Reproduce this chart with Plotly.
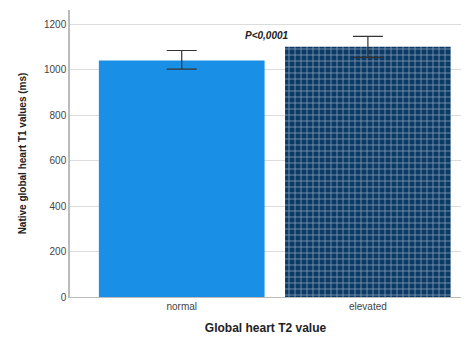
import plotly.graph_objects as go

categories = ["normal", "elevated"]
means = [1040, 1100]
err_plus = [44, 46]
err_minus = [38, 46]
y_ticks = [0, 200, 400, 600, 800, 1000, 1200]

fig = go.Figure()
fig.add_trace(go.Bar(
    x=[0, 1], y=means,
    width=0.89,
    marker=dict(
        color=["#1a8fe6", "#0b3a66"],
        line=dict(width=0),
        pattern=dict(shape=["", "+"], fgcolor="#28659c", size=6, solidity=0.25),
    ),
    error_y=dict(type="data", symmetric=False, array=err_plus, arrayminus=err_minus,
                 color="#333333", thickness=1.2, width=15),
    showlegend=False,
))

fig.add_annotation(x=0.46, y=1150, xref="x", yref="y", text="<b><i>P<0,0001</i></b>",
                   showarrow=False, font=dict(family="Arial, Liberation Sans", size=10, color="#222222"),
                   xanchor="center", yanchor="middle")

fig.update_layout(
    width=467, height=339,
    margin=dict(l=70, r=6, t=10, b=42),
    paper_bgcolor="white", plot_bgcolor="white",
    font=dict(family="Arial, Liberation Sans", color="#333333"),
    bargap=0.11,
)
fig.update_xaxes(
    range=[-0.6, 1.5], tickvals=[0, 1], ticktext=categories,
    showline=True, linecolor="#bbbbbb", linewidth=1, ticks="", showgrid=False,
    tickfont=dict(size=10, color="#444444"),
    title=dict(text="<b>Global heart T2 value</b>", font=dict(size=12, color="#222222"), standoff=12),
)
fig.update_yaxes(
    range=[0, 1262], tickvals=y_ticks,
    showline=True, linecolor="#bbbbbb", linewidth=1.5, ticks="",
    showgrid=True, gridcolor="#dcdcdc", gridwidth=1, zeroline=False,
    tickfont=dict(size=10, color="#444444"),
    title=dict(text="<b>Native global heart T1 values (ms)</b>", font=dict(size=10, color="#222222"), standoff=16),
)

fig.write_html("out.html")
